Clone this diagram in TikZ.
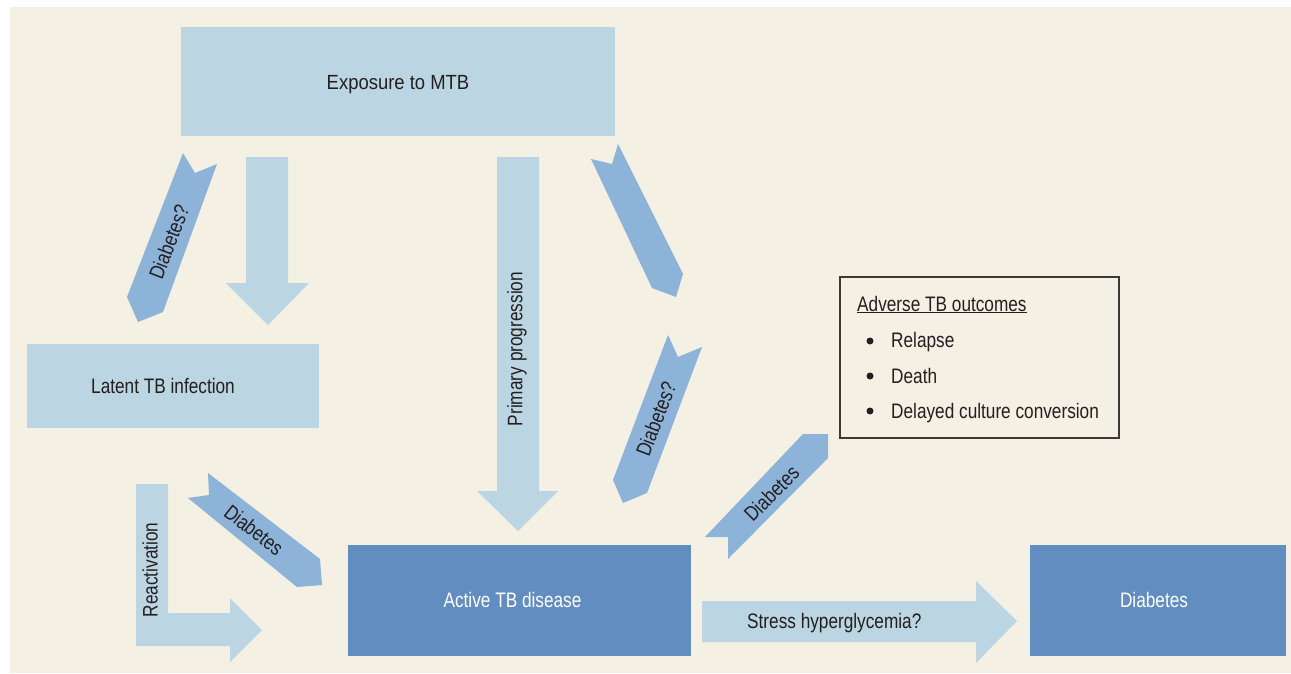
\documentclass[tikz,border=0pt]{standalone}
\usepackage{fontspec}
\setmainfont[FakeStretch=0.82]{Liberation Sans}
\newfontfamily\widerfont[FakeStretch=0.9]{Liberation Sans}
\definecolor{bg}{HTML}{F4F0E3}
\definecolor{lightb}{HTML}{BCD5E2}
\definecolor{ribbonc}{HTML}{8DB3D9}
\definecolor{darkb}{HTML}{628DC0}
\definecolor{txt}{HTML}{231F20}
\definecolor{frame}{HTML}{3C3A38}
\begin{document}
\begin{tikzpicture}[x=1pt,y=-1pt,
  lbl/.style={font=\fontsize{21}{25}\selectfont, text=txt, inner sep=0pt},
  wlbl/.style={lbl, text=white},
  lightbox/.style={fill=lightb, draw=none, inner sep=0pt},
  darkbox/.style={fill=darkb, draw=none, inner sep=0pt},
  bulletdot/.style={circle, fill=txt, draw=none, minimum size=7pt, inner sep=0pt},
  blockarrow/.style={fill=lightb, draw=none},
  ribbonarrow/.style={fill=ribbonc, draw=none}]
\useasboundingbox (0,0) rectangle (1291,673);
\fill[bg] (10,7) rectangle (1291,673);

% boxes
\node[lightbox, minimum width=434pt, minimum height=109pt] (exp) at (398,81.5) {};
\node[lbl, anchor=base, font=\widerfont\fontsize{20.5}{25}\selectfont] (expt) at (398,89.3) {Exposure to MTB};
\node[lightbox, minimum width=292pt, minimum height=84pt] (latent) at (173,386) {};
\node[lbl, anchor=base] (latentt) at (163,393) {Latent TB infection};
\node[darkbox, minimum width=343pt, minimum height=111pt] (active) at (519.5,600.5) {};
\node[wlbl, anchor=base] (activet) at (512.5,607.5) {Active TB disease};
\node[darkbox, minimum width=256pt, minimum height=111pt] (diab) at (1158,600.5) {};
\node[wlbl, anchor=base] (diabt) at (1154,607.5) {Diabetes};
\node[draw=frame, line width=1.4pt, fill=bg, minimum width=279pt, minimum height=161pt, inner sep=0pt] (outc) at (979.5,357.5) {};
\node[lbl, anchor=base west] (outt) at (857,311) {\underline{Adverse TB outcomes}};
\node[bulletdot] (b1) at (870,341) {};
\node[lbl, anchor=base west] (o1) at (891,347) {Relapse};
\node[bulletdot] (b2) at (870,376) {};
\node[lbl, anchor=base west] (o2) at (891,383) {Death};
\node[bulletdot] (b3) at (870,411) {};
\node[lbl, anchor=base west] (o3) at (891,418) {Delayed culture conversion};

% light block arrows
\fill[blockarrow] (246,157) -- (288,157) -- (288,283) -- (309,283) -- (268,325) -- (226,283) -- (246,283) -- cycle;
\fill[blockarrow] (497,157) -- (539,157) -- (539,491) -- (558,491) -- (518,531) -- (477,491) -- (497,491) -- cycle;
\node[lbl, rotate=90] (prim) at (517,349) {Primary progression};
\fill[blockarrow] (136,484) -- (168,484) -- (168,613) -- (230,613) -- (230,598) -- (262,630) -- (230,662) -- (230,646) -- (136,646) -- cycle;
\node[lbl, rotate=90] (react) at (150,570) {Reactivation};
\fill[blockarrow] (702,601) -- (976,601) -- (976,581) -- (1017,621) -- (976,663) -- (976,642) -- (702,642) -- cycle;
\node[lbl, anchor=base west] (stress) at (747,628) {Stress hyperglycemia?};

% ribbon arrows
\fill[ribbonarrow] (183,153) -- (195,173) -- (217,164) -- (163,312) -- (138,322) -- (127,297) -- cycle;
\node[lbl, rotate=69] (r1) at (169,242) {Diabetes?};
\fill[ribbonarrow] (591,159) -- (612,164) -- (618,144) -- (683,274) -- (676,297) -- (652,288) -- cycle;
\fill[ribbonarrow] (668,335) -- (678,357) -- (702,347) -- (647,493) -- (623,503) -- (613,480) -- cycle;
\node[lbl, rotate=69] (r3) at (656,419) {Diabetes?};
\fill[ribbonarrow] (208,473) -- (320,559) -- (322,585) -- (297,587) -- (188,498) -- (209,495) -- cycle;
\node[lbl, rotate=-38] (r4) at (254,530) {Diabetes};
\fill[ribbonarrow] (705,537) -- (803,434) -- (828,434) -- (828,458) -- (728,559) -- (728,537) -- cycle;
\node[lbl, rotate=45] (r5) at (771.5,493.5) {Diabetes};
\end{tikzpicture}
\end{document}
